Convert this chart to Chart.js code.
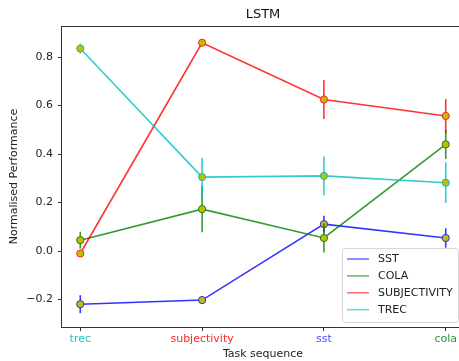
<!DOCTYPE html>
<html>
<head>
<meta charset="utf-8">
<script src="https://cdn.jsdelivr.net/npm/chart.js@4"></script>
<style>
  html, body { margin: 0; padding: 0; background: #fff; overflow: hidden; }
  #wrap { width: 459px; height: 361px; overflow: hidden; }
</style>
</head>
<body>
<div id="wrap"><canvas id="lstm-chart" width="470" height="361"></canvas></div>
<script>
// task order on the x axis
const categories = ['trec', 'subjectivity', 'sst', 'cola'];
const tickColors = ['#22c4c4', '#ff2a2a', '#4d4dff', '#2e962e'];
const yTicks = [-0.2, 0.0, 0.2, 0.4, 0.6, 0.8];

// normalised performance per task + error bar half-lengths
const sst = [-0.219, -0.202, 0.111, 0.054];
const sstErr = [0.037, 0.015, 0.035, 0.04];
const cola = [0.045, 0.173, 0.054, 0.44];
const colaErr = [0.035, 0.095, 0.06, 0.06];
const subj = [-0.01, 0.859, 0.625, 0.557];
const subjErr = [0.01, 0.012, 0.08, 0.07];
const trec = [0.835, 0.305, 0.31, 0.282];
const trecErr = [0.02, 0.08, 0.08, 0.084];

function pts(vals) {
    return vals.map((v, i) => ({ x: i, y: v }));
}

function series(label, vals, errs, color, line, order) {
    return {
        label: label,
        data: pts(vals),
        errors: errs,
        borderColor: line,
        backgroundColor: line,
        borderWidth: 1.6,
        pointRadius: 3.6,
        pointBorderWidth: 1,
        pointBackgroundColor: '#bfbf00',
        pointBorderColor: color,
        tension: 0,
        order: order
    };
}

// error bars drawn right before each series so markers stay on top
const errorBars = {
    id: 'errorBars',
    beforeDatasetDraw(chart, args) {
        const ds = chart.data.datasets[args.index];
        const x = chart.scales.x, y = chart.scales.y;
        const c = chart.ctx;
        c.save();
        c.strokeStyle = ds.borderColor;
        c.lineWidth = 1.6;
        ds.data.forEach((p, i) => {
            const px = x.getPixelForValue(p.x);
            c.beginPath();
            c.moveTo(px, y.getPixelForValue(p.y - ds.errors[i]));
            c.lineTo(px, y.getPixelForValue(p.y + ds.errors[i]));
            c.stroke();
        });
        c.restore();
    }
};

// axes box, title over the plot area, legend in the lower right corner
const frame = {
    id: 'frame',
    afterDraw(chart) {
        const a = chart.chartArea;
        const c = chart.ctx;
        c.save();
        c.strokeStyle = '#333';
        c.lineWidth = 1;
        c.strokeRect(Math.round(a.left) - 0.5, Math.round(a.top) + 0.5,
            Math.round(a.right - a.left), Math.round(a.bottom - a.top));

        c.font = '13px "DejaVu Sans"';
        c.textAlign = 'center';
        c.textBaseline = 'middle';
        c.fillStyle = '#111';
        c.fillText('LSTM', (a.left + a.right) / 2, 15);

        // legend
        const lx = 342.5, ly = 248.5, lw = 116, lh = 74, r = 3;
        c.beginPath();
        c.moveTo(lx + r, ly);
        c.arcTo(lx + lw, ly, lx + lw, ly + lh, r);
        c.arcTo(lx + lw, ly + lh, lx, ly + lh, r);
        c.arcTo(lx, ly + lh, lx, ly, r);
        c.arcTo(lx, ly, lx + lw, ly, r);
        c.closePath();
        c.fillStyle = 'rgba(255,255,255,0.8)';
        c.fill();
        c.strokeStyle = '#d6d6d6';
        c.stroke();

        c.font = '11px "DejaVu Sans"';
        c.textAlign = 'left';
        c.fillStyle = '#222';
        chart.data.datasets.forEach((ds, i) => {
            const yy = 259 + i * 16.9;
            c.strokeStyle = ds.borderColor;
            c.globalAlpha = 0.7;
            c.lineWidth = 1.6;
            c.beginPath();
            c.moveTo(347, yy);
            c.lineTo(369, yy);
            c.stroke();
            c.globalAlpha = 1;
            c.fillText(ds.label, 378, yy + 0.5);
        });
        c.restore();
    }
};

new Chart(document.getElementById('lstm-chart'), {
    type: 'line',
    data: {
        datasets: [
            series('SST', sst, sstErr, '#2a2aff', 'rgba(0,0,255,0.8)', 4),
            series('COLA', cola, colaErr, '#1a7a1a', 'rgba(0,128,0,0.8)', 3),
            series('SUBJECTIVITY', subj, subjErr, '#ff2020', 'rgba(255,0,0,0.8)', 2),
            series('TREC', trec, trecErr, '#10bcbc', 'rgba(0,191,191,0.8)', 1)
        ]
    },
    options: {
        responsive: false,
        animation: false,
        layout: { padding: { left: 0, right: 6, top: 26, bottom: 0 } },
        plugins: {
            legend: { display: false },
            tooltip: { enabled: false },
            title: { display: false }
        },
        scales: {
            x: {
                type: 'linear',
                min: -0.15,
                max: 3.15,
                afterBuildTicks: (s) => { s.ticks = categories.map((c, i) => ({ value: i })); },
                afterFit: (s) => { s.height = 34; },
                grid: { drawOnChartArea: false, drawTicks: true, tickLength: 4, tickColor: '#333' },
                border: { display: false },
                ticks: {
                    autoSkip: false,
                    maxRotation: 0,
                    padding: 1.5,
                    font: { family: 'DejaVu Sans', size: 11 },
                    color: (ctx) => ctx.tick ? tickColors[ctx.tick.value] : '#222',
                    callback: (v) => categories[v]
                },
                title: {
                    display: true,
                    text: 'Task sequence',
                    color: '#222',
                    font: { family: 'DejaVu Sans', size: 11 },
                    padding: { top: 0, bottom: 0.4 }
                }
            },
            y: {
                min: -0.313,
                max: 0.928,
                afterBuildTicks: (s) => { s.ticks = yTicks.map((v) => ({ value: v })); },
                afterFit: (s) => { s.width = 62; },
                grid: { drawOnChartArea: false, drawTicks: true, tickLength: 4, tickColor: '#333' },
                border: { display: false },
                ticks: {
                    padding: 5,
                    font: { family: 'DejaVu Sans', size: 11 },
                    color: '#222',
                    callback: (v) => (v < -1e-9 ? '\u2212' + Math.abs(v).toFixed(1) : Math.abs(v).toFixed(1))
                },
                title: {
                    display: true,
                    text: 'Normalised Performance',
                    color: '#222',
                    font: { family: 'DejaVu Sans', size: 11 },
                    padding: { top: 7.4, bottom: 0 }
                }
            }
        }
    },
    plugins: [errorBars, frame]
});
</script>
</body>
</html>
